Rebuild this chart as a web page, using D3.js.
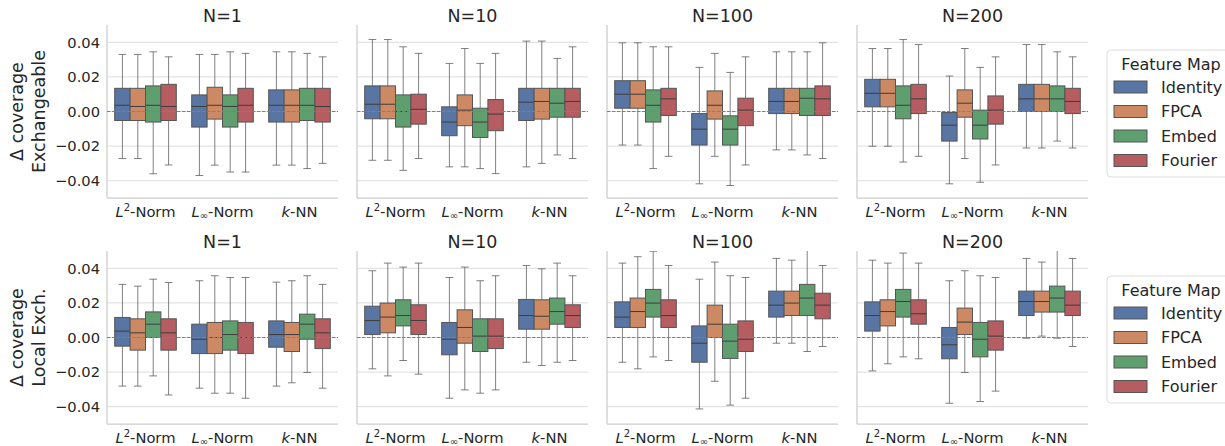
<!DOCTYPE html>
<html>
<head>
<meta charset="utf-8">
<script src="https://cdn.jsdelivr.net/npm/d3@7"></script>
<style>
  body { margin: 0; background: #fff; }
  svg { font-family: "DejaVu Sans", sans-serif; }
</style>
</head>
<body>
<div id="chart"></div>
<script>
var svgWidth = 1225;
var svgHeight = 446;

// categories
var panels = ["N=1", "N=10", "N=100", "N=200"];
var groups = ["L2", "Linf", "kNN"];
var featureMaps = ["Identity", "FPCA", "Embed", "Fourier"];
var rowLabels = [["\u0394 coverage", "Exchangeable"], ["\u0394 coverage", "Local Exch."]];
var yTicks = [-0.04, -0.02, 0.00, 0.02, 0.04];

// box stats [whisker low, q1, median, q3, whisker high]
// order: L2 (Identity, FPCA, Embed, Fourier), Linf (...), kNN (...)
var exchN1 = [
  [-0.0272, -0.0052, 0.0036, 0.0134, 0.0330], [-0.0272, -0.0052, 0.0029, 0.0134, 0.0330],
  [-0.0360, -0.0061, 0.0036, 0.0148, 0.0345], [-0.0309, -0.0052, 0.0029, 0.0157, 0.0316],
  [-0.0370, -0.0090, 0.0029, 0.0096, 0.0330], [-0.0310, -0.0044, 0.0036, 0.0140, 0.0330],
  [-0.0350, -0.0090, 0.0029, 0.0096, 0.0345], [-0.0350, -0.0061, 0.0036, 0.0134, 0.0336],
  [-0.0310, -0.0061, 0.0036, 0.0125, 0.0345], [-0.0310, -0.0061, 0.0036, 0.0125, 0.0345],
  [-0.0330, -0.0052, 0.0036, 0.0134, 0.0336], [-0.0300, -0.0061, 0.0029, 0.0134, 0.0316]
];
var exchN10 = [
  [-0.0282, -0.0042, 0.0042, 0.0148, 0.0416], [-0.0282, -0.0042, 0.0042, 0.0148, 0.0416],
  [-0.0340, -0.0090, 0.0000, 0.0096, 0.0374], [-0.0272, -0.0073, 0.0013, 0.0100, 0.0336],
  [-0.0320, -0.0140, -0.0061, 0.0027, 0.0278], [-0.0320, -0.0082, 0.0008, 0.0096, 0.0364],
  [-0.0330, -0.0150, -0.0061, 0.0019, 0.0278], [-0.0359, -0.0111, -0.0015, 0.0069, 0.0336],
  [-0.0320, -0.0052, 0.0054, 0.0134, 0.0407], [-0.0300, -0.0044, 0.0058, 0.0134, 0.0407],
  [-0.0251, -0.0033, 0.0048, 0.0134, 0.0307], [-0.0272, -0.0033, 0.0058, 0.0134, 0.0374]
];
var exchN100 = [
  [-0.0194, 0.0019, 0.0100, 0.0178, 0.0397], [-0.0194, 0.0019, 0.0100, 0.0178, 0.0397],
  [-0.0330, -0.0061, 0.0036, 0.0125, 0.0374], [-0.0259, -0.0023, 0.0073, 0.0134, 0.0374],
  [-0.0418, -0.0194, -0.0102, -0.0012, 0.0255], [-0.0259, -0.0044, 0.0036, 0.0119, 0.0336],
  [-0.0428, -0.0194, -0.0102, -0.0025, 0.0226], [-0.0309, -0.0082, 0.0008, 0.0077, 0.0316],
  [-0.0222, -0.0012, 0.0058, 0.0134, 0.0345], [-0.0222, -0.0012, 0.0058, 0.0134, 0.0345],
  [-0.0251, -0.0023, 0.0077, 0.0134, 0.0345], [-0.0272, -0.0023, 0.0073, 0.0148, 0.0397]
];
var exchN200 = [
  [-0.0201, 0.0027, 0.0105, 0.0186, 0.0364], [-0.0201, 0.0027, 0.0105, 0.0186, 0.0364],
  [-0.0292, -0.0042, 0.0036, 0.0148, 0.0416], [-0.0259, -0.0012, 0.0073, 0.0157, 0.0387],
  [-0.0418, -0.0171, -0.0079, -0.0006, 0.0205], [-0.0272, -0.0033, 0.0048, 0.0125, 0.0364],
  [-0.0409, -0.0159, -0.0079, 0.0008, 0.0255], [-0.0309, -0.0073, 0.0008, 0.0090, 0.0316],
  [-0.0211, 0.0000, 0.0073, 0.0157, 0.0387], [-0.0211, 0.0000, 0.0073, 0.0157, 0.0387],
  [-0.0171, 0.0000, 0.0073, 0.0148, 0.0345], [-0.0211, -0.0012, 0.0058, 0.0134, 0.0316]
];
var localN1 = [
  [-0.0281, -0.0050, 0.0037, 0.0116, 0.0307], [-0.0281, -0.0073, 0.0027, 0.0108, 0.0297],
  [-0.0222, 0.0000, 0.0077, 0.0148, 0.0337], [-0.0332, -0.0073, 0.0027, 0.0108, 0.0318],
  [-0.0293, -0.0093, -0.0010, 0.0077, 0.0328], [-0.0322, -0.0093, 0.0000, 0.0087, 0.0357],
  [-0.0322, -0.0073, 0.0017, 0.0096, 0.0347], [-0.0351, -0.0093, 0.0000, 0.0087, 0.0347],
  [-0.0281, -0.0056, 0.0017, 0.0096, 0.0320], [-0.0262, -0.0081, 0.0017, 0.0087, 0.0328],
  [-0.0202, -0.0010, 0.0077, 0.0135, 0.0357], [-0.0293, -0.0064, 0.0027, 0.0108, 0.0307]
];
var localN10 = [
  [-0.0181, 0.0017, 0.0098, 0.0181, 0.0386], [-0.0222, 0.0027, 0.0118, 0.0199, 0.0430],
  [-0.0133, 0.0067, 0.0127, 0.0218, 0.0407], [-0.0212, 0.0017, 0.0098, 0.0189, 0.0430],
  [-0.0351, -0.0100, -0.0010, 0.0087, 0.0347], [-0.0303, -0.0033, 0.0058, 0.0160, 0.0407],
  [-0.0322, -0.0081, 0.0008, 0.0108, 0.0328], [-0.0303, -0.0064, 0.0008, 0.0108, 0.0357],
  [-0.0143, 0.0048, 0.0127, 0.0220, 0.0416], [-0.0162, 0.0048, 0.0123, 0.0218, 0.0397],
  [-0.0143, 0.0077, 0.0150, 0.0228, 0.0430], [-0.0133, 0.0058, 0.0127, 0.0189, 0.0357]
];
var localN100 = [
  [-0.0143, 0.0058, 0.0118, 0.0206, 0.0430], [-0.0181, 0.0058, 0.0150, 0.0228, 0.0467],
  [-0.0112, 0.0118, 0.0199, 0.0278, 0.0499], [-0.0133, 0.0058, 0.0127, 0.0218, 0.0416],
  [-0.0413, -0.0143, -0.0033, 0.0067, 0.0337], [-0.0253, 0.0000, 0.0077, 0.0187, 0.0436],
  [-0.0391, -0.0121, -0.0021, 0.0077, 0.0357], [-0.0351, -0.0081, -0.0010, 0.0096, 0.0347],
  [-0.0033, 0.0118, 0.0187, 0.0268, 0.0457], [-0.0033, 0.0127, 0.0199, 0.0268, 0.0447],
  [-0.0081, 0.0127, 0.0228, 0.0307, 0.0520], [-0.0052, 0.0108, 0.0187, 0.0256, 0.0416]
];
var localN200 = [
  [-0.0193, 0.0037, 0.0127, 0.0206, 0.0447], [-0.0152, 0.0067, 0.0150, 0.0218, 0.0430],
  [-0.0112, 0.0118, 0.0208, 0.0278, 0.0488], [-0.0123, 0.0077, 0.0137, 0.0218, 0.0430],
  [-0.0380, -0.0123, -0.0042, 0.0058, 0.0328], [-0.0202, 0.0017, 0.0089, 0.0170, 0.0386],
  [-0.0370, -0.0112, -0.0010, 0.0087, 0.0357], [-0.0310, -0.0073, 0.0008, 0.0096, 0.0347],
  [-0.0004, 0.0127, 0.0208, 0.0268, 0.0457], [0.0008, 0.0147, 0.0208, 0.0268, 0.0436],
  [-0.0004, 0.0147, 0.0228, 0.0297, 0.0520], [-0.0052, 0.0127, 0.0187, 0.0268, 0.0457]
];
var rowData = [
  [exchN1, exchN10, exchN100, exchN200],
  [localN1, localN10, localN100, localN200]
];

var colors = ["#5875A4", "#CC8963", "#5F9E6E", "#B55D60"];
var lineColor = "#555555";
var textColor = "#262626";

var panelLeft = 107, panelStep = 250, panelWidth = 231;
var rowTop = [25, 251], panelHeight = 173;

var svg = d3.select("#chart")
  .append("svg")
  .attr("width", svgWidth)
  .attr("height", svgHeight);

var yScale = d3.scaleLinear()
  .domain([-0.05, 0.05])
  .range([panelHeight, 0]);

var xGroup = d3.scaleBand()
  .domain(groups)
  .range([0, panelWidth]);

var xHue = d3.scaleBand()
  .domain(featureMaps)
  .range([xGroup.bandwidth() * 0.1, xGroup.bandwidth() * 0.9]);

var fmt = function(d) { return d3.format(".2f")(d).replace("-", "\u2212"); };

var defs = svg.append("defs");
defs.append("clipPath").attr("id", "clip")
  .append("rect").attr("x", 0).attr("y", 0).attr("width", panelWidth).attr("height", panelHeight);

rowData.forEach(function(panelSet, r) {
  panelSet.forEach(function(stats, p) {
    var g = svg.append("g")
      .attr("transform", `translate(${panelLeft + p * panelStep}, ${rowTop[r]})`);

    // gridlines
    g.append("g").selectAll("line")
      .data(yTicks)
      .enter()
      .append("line")
      .attr("x1", 0).attr("x2", panelWidth)
      .attr("y1", d => yScale(d)).attr("y2", d => yScale(d))
      .attr("stroke", "#e3e3e3")
      .attr("stroke-width", 1.2);

    // tick labels only on first column
    if (p === 0) {
      g.append("g").selectAll("text")
        .data(yTicks)
        .enter()
        .append("text")
        .attr("x", -7)
        .attr("y", d => yScale(d))
        .attr("dy", "0.36em")
        .attr("text-anchor", "end")
        .attr("font-size", "14.7px")
        .attr("fill", textColor)
        .text(fmt);

      var lab = svg.append("text")
        .attr("transform", `translate(0, ${rowTop[r] + panelHeight / 2}) rotate(-90)`)
        .attr("text-anchor", "middle")
        .attr("font-size", "17.5px")
        .attr("fill", textColor);
      lab.append("tspan").attr("x", 0).attr("y", 23).text(rowLabels[r][0]);
      lab.append("tspan").attr("x", 0).attr("y", 45).text(rowLabels[r][1]);
    }

    // spines
    g.append("line")
      .attr("x1", 0).attr("x2", 0).attr("y1", 0).attr("y2", panelHeight)
      .attr("stroke", "#cccccc").attr("stroke-width", 1.25);
    g.append("line")
      .attr("x1", 0).attr("x2", panelWidth).attr("y1", panelHeight).attr("y2", panelHeight)
      .attr("stroke", "#cccccc").attr("stroke-width", 1.25);

    // title
    g.append("text")
      .attr("x", panelWidth / 2)
      .attr("y", -3)
      .attr("text-anchor", "middle")
      .attr("font-size", "17.5px")
      .attr("fill", textColor)
      .text(panels[p]);

    // boxes
    var boxes = g.append("g").attr("clip-path", "url(#clip)");
    var bw = xHue.bandwidth();
    stats.forEach(function(s, i) {
      var grp = groups[Math.floor(i / 4)];
      var fm = featureMaps[i % 4];
      var x0 = xGroup(grp) + xHue(fm);
      var cx = x0 + bw / 2;
      var b = boxes.append("g");
      b.append("line")
        .attr("x1", cx).attr("x2", cx)
        .attr("y1", yScale(s[0])).attr("y2", yScale(s[1]))
        .attr("stroke", lineColor).attr("stroke-opacity", 0.75).attr("stroke-width", 1);
      b.append("line")
        .attr("x1", cx).attr("x2", cx)
        .attr("y1", yScale(s[3])).attr("y2", yScale(s[4]))
        .attr("stroke", lineColor).attr("stroke-opacity", 0.75).attr("stroke-width", 1);
      [s[0], s[4]].forEach(function(v) {
        b.append("line")
          .attr("x1", cx - bw / 4).attr("x2", cx + bw / 4)
          .attr("y1", yScale(v)).attr("y2", yScale(v))
          .attr("stroke", lineColor).attr("stroke-opacity", 0.75).attr("stroke-width", 1);
      });
      b.append("rect")
        .attr("x", x0).attr("width", bw)
        .attr("y", yScale(s[3]))
        .attr("height", yScale(s[1]) - yScale(s[3]))
        .attr("fill", colors[i % 4])
        .attr("stroke", lineColor)
        .attr("stroke-width", 1);
      b.append("line")
        .attr("x1", x0).attr("x2", x0 + bw)
        .attr("y1", yScale(s[2])).attr("y2", yScale(s[2]))
        .attr("stroke", "#3d3d3d").attr("stroke-width", 1);
    });

    // zero reference line
    g.append("line")
      .attr("x1", 0).attr("x2", panelWidth)
      .attr("y1", yScale(0)).attr("y2", yScale(0))
      .attr("stroke", "#808080")
      .attr("stroke-width", 1)
      .attr("stroke-dasharray", "3.5,1.5");

    // x tick labels
    var xl = g.append("g").selectAll("text")
      .data(groups)
      .enter()
      .append("text")
      .attr("x", d => xGroup(d) + xGroup.bandwidth() / 2)
      .attr("y", panelHeight + 19)
      .attr("text-anchor", "middle")
      .attr("font-size", "14.7px")
      .attr("fill", textColor);
    xl.each(function(d) {
      var t = d3.select(this);
      if (d === "L2") {
        t.append("tspan").attr("font-style", "italic").text("L");
        t.append("tspan").attr("font-size", "10px").attr("dy", "-6").text("2");
        t.append("tspan").attr("dy", "6").text("-Norm");
      } else if (d === "Linf") {
        t.append("tspan").attr("font-style", "italic").text("L");
        t.append("tspan").attr("font-size", "10px").attr("dy", "1.5").text("\u221e");
        t.append("tspan").attr("dy", "-1.5").text("-Norm");
      } else {
        t.append("tspan").attr("font-style", "italic").text("k");
        t.append("tspan").text("-NN");
      }
    });
  });

  // legend
  var lg = svg.append("g")
    .attr("transform", `translate(1107, ${rowTop[r] + 25})`);
  lg.append("rect")
    .attr("x", 0).attr("y", 0)
    .attr("width", 130).attr("height", 127)
    .attr("rx", 4)
    .attr("fill", "#ffffff")
    .attr("stroke", "#dddddd");
  lg.append("text")
    .attr("x", 64).attr("y", 20)
    .attr("text-anchor", "middle")
    .attr("font-size", "16px")
    .attr("fill", textColor)
    .text("Feature Map");
  featureMaps.forEach(function(fm, i) {
    var yy = 37 + i * 24.5;
    lg.append("rect")
      .attr("x", 7).attr("y", yy - 6)
      .attr("width", 33).attr("height", 12)
      .attr("fill", colors[i])
      .attr("stroke", lineColor)
      .attr("stroke-width", 1);
    lg.append("text")
      .attr("x", 54).attr("y", yy)
      .attr("dy", "0.36em")
      .attr("font-size", "16px")
      .attr("fill", textColor)
      .text(fm);
  });
});
</script>
</body>
</html>
